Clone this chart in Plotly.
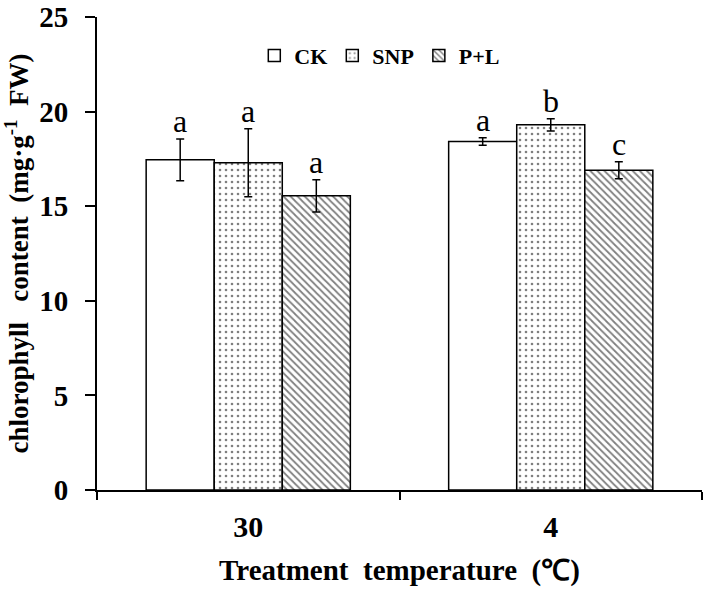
import plotly.graph_objects as go

categories = ["30", "4"]
series_names = ["CK", "SNP", "P+L"]
ck_values = [17.45, 18.42]
ck_errors = [1.1, 0.2]
snp_values = [17.3, 19.3]
snp_errors = [1.8, 0.32]
pl_values = [15.55, 16.9]
pl_errors = [0.85, 0.45]
ck_letters = ["a", "a"]
snp_letters = ["a", "b"]
pl_letters = ["a", "c"]

FONT = "Liberation Serif, Times New Roman, serif"
NB = "\u00a0"
bargap = 0.325
bar_w = (1 - bargap) / 3

fig = go.Figure()
styles = [
    dict(color="white", line=dict(color="black", width=1.5)),
    dict(color="white", line=dict(color="black", width=1.5),
         pattern=dict(shape=".", fgcolor="black", bgcolor="white", size=6, solidity=0.15)),
    dict(color="white", line=dict(color="black", width=1.5),
         pattern=dict(shape="\\", fgcolor="black", bgcolor="white", size=5, solidity=0.35)),
]
vals = [ck_values, snp_values, pl_values]
errs = [ck_errors, snp_errors, pl_errors]
lets = [ck_letters, snp_letters, pl_letters]
for name, v, e, st in zip(series_names, vals, errs, styles):
    fig.add_trace(go.Bar(
        name=name, x=categories, y=v, marker=st,
        error_y=dict(type="data", array=e, visible=True, color="black", thickness=1.5, width=4),
    ))

annotations = []
for k, (v, e, l) in enumerate(zip(vals, errs, lets)):
    for i in range(len(categories)):
        annotations.append(dict(
            x=i + (k - 1) * bar_w, y=v[i] + e[i], xref="x", yref="y",
            text=l[i], showarrow=False, yanchor="bottom", yshift=-2,
            font=dict(family=FONT, size=32, color="black"),
        ))

fig.update_layout(
    width=708, height=589,
    margin=dict(l=97, r=6, t=17, b=99),
    paper_bgcolor="white", plot_bgcolor="white",
    barmode="group", bargap=bargap, bargroupgap=0,
    annotations=annotations,
    showlegend=True,
    legend=dict(orientation="h", x=0.26, y=0.918, xanchor="left", yanchor="middle",
                font=dict(family=FONT, size=22, color="black", weight="bold"),
                bgcolor="rgba(0,0,0,0)", itemwidth=30, traceorder="normal"),
    font=dict(family=FONT, color="black"),
)
fig.update_yaxes(
    range=[0, 25], dtick=5, ticks="outside", ticklen=10, tickwidth=2, tickcolor="black",
    showline=True, linewidth=2, linecolor="black", showgrid=False, zeroline=False,
    tickfont=dict(family=FONT, size=29, color="black", weight="bold"),
    ticklabelstandoff=11, automargin=False, ticklabeloverflow="allow",
    title=dict(text=f"chlorophyll{NB*3}content{NB*2}(mg·g<sup>-1</sup>{NB*2}FW)", standoff=20,
               font=dict(family=FONT, size=27, color="black", weight="bold")),
)
fig.update_xaxes(
    ticks="outside", tickson="boundaries", ticklen=8, tickwidth=2, tickcolor="black",
    showline=True, linewidth=2, linecolor="black", showgrid=False,
    tickfont=dict(family=FONT, size=30, color="black", weight="bold"),
    ticklabelstandoff=9, automargin=False, ticklabeloverflow="allow",
    title=dict(text=f"Treatment{NB*2}temperature{NB*2}(℃)", standoff=18,
               font=dict(family=FONT, size=29, color="black", weight="bold")),
)
fig.write_html("out.html", config={"displayModeBar": False},
               post_script="document.body.style.margin='0';document.body.style.padding='0';")
